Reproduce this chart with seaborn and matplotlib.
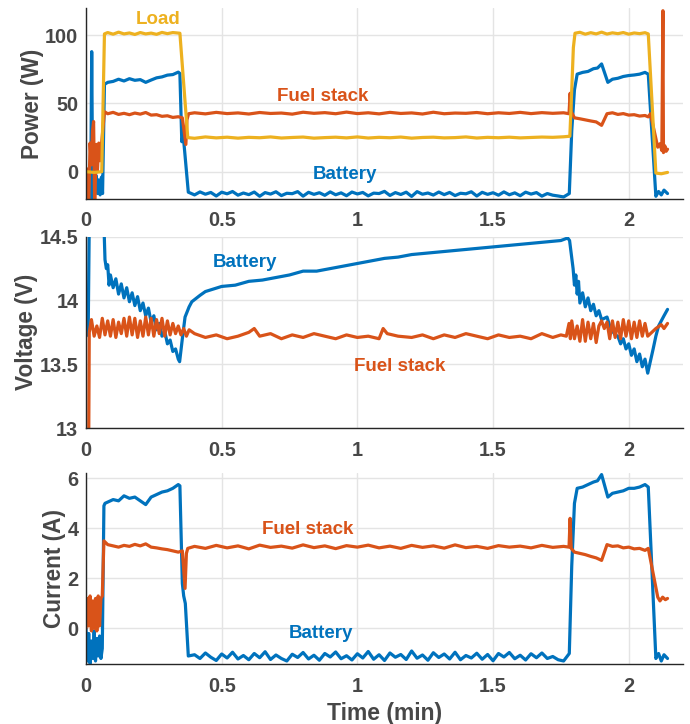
import matplotlib
matplotlib.use("Agg")
import matplotlib.pyplot as plt
import pandas as pd
import seaborn as sns
from matplotlib.ticker import FuncFormatter

# ---------------- data: (time in min, value) ----------------
POWER_LOAD = [
    (0.000, 0.0), (0.030, -0.5), (0.058, 0.0), (0.068, 101.0), (0.080, 102.0), (0.100, 100.8),
    (0.120, 102.3), (0.140, 101.0), (0.160, 101.7), (0.180, 100.6), (0.200, 102.0), (0.220, 101.0),
    (0.240, 101.6), (0.260, 100.7), (0.280, 102.1), (0.300, 101.2), (0.320, 102.0), (0.346, 101.5),
    (0.375, 25.0), (0.40, 24.5), (0.44, 25.5), (0.48, 24.8), (0.52, 25.3), (0.56, 24.6), (0.60, 25.2),
    (0.64, 24.9), (0.68, 25.5), (0.72, 24.7), (0.76, 25.1), (0.80, 25.4), (0.84, 24.6), (0.88, 25.0),
    (0.92, 25.3), (0.96, 24.8), (1.00, 25.5), (1.04, 24.7), (1.08, 25.2), (1.12, 24.9), (1.16, 25.4),
    (1.20, 24.6), (1.24, 25.1), (1.28, 25.3), (1.32, 24.8), (1.36, 25.0), (1.40, 25.5), (1.44, 24.7),
    (1.48, 25.2), (1.52, 24.9), (1.56, 25.3), (1.60, 24.8), (1.64, 25.1), (1.68, 25.4), (1.72, 25.2),
    (1.76, 25.6), (1.783, 26.0), (1.790, 60.0), (1.796, 91.0), (1.802, 101.5), (1.82, 102.2),
    (1.84, 100.8), (1.86, 101.9), (1.88, 101.0), (1.90, 102.3), (1.92, 100.9), (1.94, 101.8),
    (1.96, 101.2), (1.98, 102.0), (2.00, 100.8), (2.02, 101.7), (2.04, 101.2), (2.06, 101.9),
    (2.072, 101.0), (2.100, -1.0), (2.120, -1.5), (2.143, -0.5),
]

POWER_FUEL = [
    (0.000, 0.0), (0.005, 2.0), (0.010, -25.0), (0.015, 21.0), (0.020, 5.0), (0.024, 30.0),
    (0.028, 36.8), (0.032, -25.0), (0.038, 20.0), (0.042, 0.0), (0.047, 21.0), (0.052, 8.0),
    (0.058, 22.0), (0.068, 44.0), (0.08, 42.5), (0.10, 43.5), (0.12, 42.0), (0.14, 42.8),
    (0.16, 41.8), (0.18, 43.0), (0.20, 42.2), (0.22, 43.4), (0.24, 41.5), (0.26, 41.8),
    (0.28, 40.6), (0.30, 41.0), (0.32, 39.8), (0.34, 40.3), (0.355, 39.5), (0.368, 20.0),
    (0.372, 38.0), (0.378, 42.5), (0.40, 43.2), (0.44, 42.4), (0.48, 43.5), (0.52, 42.6),
    (0.56, 43.1), (0.60, 42.3), (0.64, 43.4), (0.68, 42.7), (0.72, 43.0), (0.76, 42.2),
    (0.80, 43.6), (0.84, 42.8), (0.88, 43.3), (0.92, 42.5), (0.96, 43.7), (1.00, 42.6),
    (1.04, 43.2), (1.08, 42.4), (1.12, 43.5), (1.16, 42.7), (1.20, 43.1), (1.24, 42.3),
    (1.28, 43.6), (1.32, 42.5), (1.36, 43.0), (1.40, 42.8), (1.44, 43.4), (1.48, 42.5),
    (1.52, 43.2), (1.56, 42.7), (1.60, 43.5), (1.64, 42.6), (1.68, 43.3), (1.72, 42.8),
    (1.76, 43.2), (1.780, 42.5), (1.784, 57.5), (1.788, 44.0), (1.800, 39.5), (1.82, 38.8),
    (1.84, 38.0), (1.86, 37.2), (1.88, 36.5), (1.900, 34.0), (1.920, 42.5), (1.94, 43.2),
    (1.96, 42.0), (1.98, 42.6), (2.00, 41.5), (2.02, 41.8), (2.04, 40.8), (2.06, 41.2),
    (2.072, 40.2), (2.080, 42.5), (2.107, 18.0), (2.115, 20.5), (2.122, 15.5), (2.126, 118.0),
    (2.128, 14.0), (2.133, 19.0), (2.138, 15.0), (2.143, 16.5),
]

POWER_BATTERY = [
    (0.000, 0.0), (0.004, -2.0), (0.008, -25.0), (0.013, -8.0), (0.017, -25.0), (0.021, 88.0),
    (0.025, -25.0), (0.030, -5.0), (0.034, -15.0), (0.038, -3.0), (0.042, -16.0), (0.047, -6.0),
    (0.052, -17.0), (0.057, -4.0), (0.061, -16.0), (0.068, 64.0), (0.08, 65.5), (0.10, 66.2),
    (0.12, 67.8), (0.14, 66.5), (0.16, 68.2), (0.18, 67.0), (0.20, 67.5), (0.22, 65.5),
    (0.24, 67.2), (0.26, 68.8), (0.28, 69.5), (0.30, 70.8), (0.32, 71.2), (0.34, 73.0),
    (0.346, 72.0), (0.353, 22.0), (0.358, 27.0), (0.364, 14.0), (0.377, -15.0),
    (0.40, -17.0), (0.42, -14.8), (0.44, -16.5), (0.46, -15.2), (0.48, -17.8), (0.50, -15.0),
    (0.52, -16.2), (0.54, -14.5), (0.56, -17.2), (0.58, -15.6), (0.60, -16.8), (0.62, -14.9),
    (0.64, -18.0), (0.66, -15.3), (0.68, -16.4), (0.70, -14.7), (0.72, -17.5), (0.74, -15.8),
    (0.76, -16.1), (0.78, -14.6), (0.80, -17.9), (0.82, -15.1), (0.84, -16.6), (0.86, -15.4),
    (0.88, -17.3), (0.90, -14.8), (0.92, -16.9), (0.94, -15.5), (0.96, -17.6), (0.98, -14.9),
    (1.00, -16.3), (1.02, -15.2), (1.04, -17.7), (1.06, -15.7), (1.08, -16.0), (1.10, -14.4),
    (1.12, -17.4), (1.14, -15.3), (1.16, -16.7), (1.18, -15.0), (1.20, -18.1), (1.22, -14.6),
    (1.24, -16.5), (1.26, -15.6), (1.28, -17.1), (1.30, -14.9), (1.32, -16.8), (1.34, -15.2),
    (1.36, -17.5), (1.38, -15.8), (1.40, -16.2), (1.42, -14.7), (1.44, -17.8), (1.46, -15.1),
    (1.48, -16.6), (1.50, -15.4), (1.52, -17.2), (1.54, -14.8), (1.56, -16.9), (1.58, -15.5),
    (1.60, -17.6), (1.62, -15.0), (1.64, -16.4), (1.66, -15.3), (1.68, -17.9), (1.70, -16.0),
    (1.72, -17.2), (1.74, -17.8), (1.76, -18.5),
    (1.781, -16.0), (1.790, 30.0), (1.800, 60.0), (1.810, 71.5), (1.83, 72.8), (1.85, 73.5),
    (1.87, 75.5), (1.885, 76.0), (1.900, 79.0), (1.923, 65.5), (1.94, 67.8), (1.96, 68.5),
    (1.98, 69.8), (2.00, 70.5), (2.02, 70.9), (2.04, 71.5), (2.06, 72.8), (2.072, 71.5),
    (2.100, -18.0), (2.11, -14.5), (2.12, -17.0), (2.13, -13.5), (2.143, -16.0),
]

VOLT_BATTERY = [
    (0.000, 13.72), (0.008, 13.74), (0.012, 14.60), (0.066, 14.60), (0.070, 14.32), (0.075, 14.25),
    (0.080, 14.28), (0.085, 14.12), (0.09, 14.20), (0.10, 14.10), (0.11, 14.17), (0.12, 14.05),
    (0.13, 14.13), (0.14, 14.02), (0.15, 14.10), (0.16, 13.99), (0.17, 14.06), (0.18, 13.96),
    (0.19, 14.03), (0.20, 13.92), (0.21, 13.98), (0.22, 13.88), (0.23, 13.94), (0.24, 13.83),
    (0.25, 13.88), (0.26, 13.77), (0.27, 13.82), (0.28, 13.72), (0.29, 13.76), (0.30, 13.66),
    (0.31, 13.69), (0.32, 13.60), (0.33, 13.62), (0.34, 13.54), (0.345, 13.52), (0.355, 13.70),
    (0.365, 13.87), (0.38, 13.95), (0.39, 13.99), (0.42, 14.04), (0.44, 14.07), (0.47, 14.09),
    (0.50, 14.11), (0.55, 14.12), (0.60, 14.15), (0.65, 14.16), (0.70, 14.18), (0.75, 14.20),
    (0.80, 14.23), (0.85, 14.23), (0.90, 14.25), (0.95, 14.27), (1.00, 14.29), (1.05, 14.31),
    (1.10, 14.33), (1.15, 14.34), (1.20, 14.36), (1.25, 14.37), (1.30, 14.38), (1.35, 14.39),
    (1.40, 14.40), (1.45, 14.41), (1.50, 14.42), (1.55, 14.43), (1.60, 14.44), (1.65, 14.45),
    (1.70, 14.46), (1.75, 14.47), (1.775, 14.49), (1.782, 14.47), (1.795, 14.25), (1.80, 14.12),
    (1.805, 14.20), (1.81, 14.05), (1.815, 14.15), (1.82, 13.98), (1.83, 14.06), (1.84, 13.95),
    (1.85, 14.02), (1.86, 13.92), (1.87, 13.97), (1.88, 13.88), (1.89, 13.92), (1.90, 13.85),
    (1.91, 13.86), (1.92, 13.87), (1.93, 13.80), (1.94, 13.76), (1.95, 13.73), (1.96, 13.72),
    (1.97, 13.66), (1.98, 13.70), (1.99, 13.62), (2.00, 13.66), (2.01, 13.57), (2.02, 13.62),
    (2.03, 13.52), (2.04, 13.58), (2.05, 13.48), (2.06, 13.54), (2.07, 13.43), (2.09, 13.62),
    (2.10, 13.72), (2.11, 13.80), (2.12, 13.84), (2.13, 13.88), (2.143, 13.93),
]

VOLT_FUEL = [
    (0.000, 12.90), (0.010, 12.90), (0.012, 13.75), (0.02, 13.85), (0.03, 13.72), (0.04, 13.80),
    (0.05, 13.71), (0.06, 13.86), (0.07, 13.73), (0.08, 13.84), (0.09, 13.72), (0.10, 13.85),
    (0.11, 13.71), (0.12, 13.83), (0.13, 13.74), (0.14, 13.86), (0.15, 13.72), (0.16, 13.87),
    (0.17, 13.73), (0.18, 13.86), (0.19, 13.71), (0.20, 13.84), (0.21, 13.72), (0.22, 13.87),
    (0.23, 13.73), (0.24, 13.86), (0.25, 13.72), (0.26, 13.85), (0.27, 13.74), (0.28, 13.86),
    (0.29, 13.72), (0.30, 13.84), (0.31, 13.73), (0.32, 13.82), (0.33, 13.74), (0.34, 13.80),
    (0.35, 13.73), (0.36, 13.78), (0.37, 13.72), (0.38, 13.77), (0.40, 13.74), (0.44, 13.71),
    (0.48, 13.73), (0.52, 13.70), (0.56, 13.72), (0.60, 13.75), (0.62, 13.78), (0.64, 13.72),
    (0.68, 13.74), (0.72, 13.70), (0.76, 13.73), (0.80, 13.71), (0.84, 13.74), (0.88, 13.72),
    (0.92, 13.70), (0.96, 13.73), (1.00, 13.71), (1.04, 13.72), (1.08, 13.70), (1.095, 13.78),
    (1.11, 13.74), (1.15, 13.72), (1.20, 13.71), (1.24, 13.73), (1.28, 13.70), (1.32, 13.73),
    (1.36, 13.71), (1.40, 13.74), (1.44, 13.72), (1.48, 13.70), (1.52, 13.73), (1.56, 13.71),
    (1.60, 13.72), (1.64, 13.70), (1.68, 13.74), (1.72, 13.71), (1.75, 13.73), (1.77, 13.72),
    (1.78, 13.82), (1.785, 13.70), (1.79, 13.84), (1.80, 13.70), (1.81, 13.80), (1.82, 13.68),
    (1.83, 13.85), (1.84, 13.68), (1.85, 13.83), (1.86, 13.70), (1.87, 13.82), (1.88, 13.67),
    (1.89, 13.80), (1.90, 13.84), (1.91, 13.78), (1.92, 13.83), (1.93, 13.70), (1.94, 13.84),
    (1.95, 13.71), (1.96, 13.83), (1.97, 13.70), (1.98, 13.85), (1.99, 13.72), (2.00, 13.84),
    (2.01, 13.70), (2.02, 13.83), (2.03, 13.71), (2.04, 13.84), (2.05, 13.72), (2.06, 13.82),
    (2.07, 13.72), (2.08, 13.74), (2.10, 13.78), (2.12, 13.81), (2.13, 13.78), (2.143, 13.82),
]

CURR_BATTERY = [
    (0.000, 0.0), (0.005, -1.3), (0.010, -0.2), (0.015, -1.4), (0.020, -0.5), (0.025, -1.2),
    (0.030, -0.1), (0.035, -1.3), (0.040, -0.4), (0.045, -1.1), (0.050, -0.3), (0.055, -1.2),
    (0.060, -0.8), (0.066, 4.9), (0.07, 5.0), (0.08, 5.05), (0.10, 5.15), (0.12, 5.1),
    (0.14, 5.3), (0.16, 5.2), (0.18, 5.25), (0.20, 5.1), (0.22, 4.95), (0.24, 5.25),
    (0.26, 5.35), (0.28, 5.45), (0.30, 5.5), (0.32, 5.6), (0.34, 5.75), (0.346, 5.7),
    (0.355, 1.8), (0.360, 1.3), (0.366, 1.0), (0.377, -1.1),
    (0.40, -1.05), (0.42, -1.20), (0.44, -0.98), (0.46, -1.15), (0.48, -1.28), (0.50, -1.02),
    (0.52, -1.18), (0.54, -0.95), (0.56, -1.22), (0.58, -1.08), (0.60, -1.25), (0.62, -1.00),
    (0.64, -1.17), (0.66, -0.93), (0.68, -1.24), (0.70, -1.06), (0.72, -1.20), (0.74, -1.30),
    (0.76, -1.03), (0.78, -1.16), (0.80, -0.96), (0.82, -1.22), (0.84, -1.07), (0.86, -1.27),
    (0.88, -1.00), (0.90, -1.14), (0.92, -0.94), (0.94, -1.21), (0.96, -1.09), (0.98, -1.26),
    (1.00, -1.01), (1.02, -1.18), (1.04, -0.92), (1.06, -1.23), (1.08, -1.05), (1.10, -1.28),
    (1.12, -0.98), (1.14, -1.15), (1.16, -1.04), (1.18, -1.24), (1.20, -0.90), (1.22, -1.19),
    (1.24, -1.06), (1.26, -1.27), (1.28, -0.97), (1.30, -1.16), (1.32, -1.02), (1.34, -1.22),
    (1.36, -0.95), (1.38, -1.25), (1.40, -1.08), (1.42, -1.18), (1.44, -0.99), (1.46, -1.23),
    (1.48, -1.04), (1.50, -1.29), (1.52, -1.00), (1.54, -1.14), (1.56, -0.96), (1.58, -1.21),
    (1.60, -1.07), (1.62, -1.26), (1.64, -1.01), (1.66, -1.17), (1.68, -0.98), (1.70, -1.20),
    (1.72, -1.12), (1.74, -1.25), (1.76, -1.30),
    (1.781, -1.0), (1.790, 2.5), (1.800, 5.0), (1.810, 5.6), (1.83, 5.65), (1.85, 5.75),
    (1.87, 5.85), (1.885, 5.9), (1.900, 6.15), (1.923, 5.25), (1.94, 5.4), (1.96, 5.45),
    (1.98, 5.5), (2.00, 5.6), (2.02, 5.6), (2.04, 5.65), (2.06, 5.75), (2.072, 5.65),
    (2.100, -1.2), (2.11, -1.0), (2.12, -1.3), (2.13, -1.05), (2.143, -1.2),
]

CURR_FUEL = [
    (0.000, 0.0), (0.005, 1.2), (0.010, 0.1), (0.015, 1.3), (0.020, -0.1), (0.025, 1.1),
    (0.030, 0.0), (0.035, 1.2), (0.040, -0.1), (0.045, 1.3), (0.050, 0.1), (0.055, 1.2),
    (0.060, 1.3), (0.066, 3.5), (0.08, 3.35), (0.10, 3.30), (0.12, 3.25), (0.14, 3.32),
    (0.16, 3.28), (0.18, 3.36), (0.20, 3.30), (0.22, 3.38), (0.24, 3.25), (0.26, 3.22),
    (0.28, 3.18), (0.30, 3.15), (0.32, 3.10), (0.34, 3.05), (0.355, 3.10), (0.365, 1.6),
    (0.370, 3.0), (0.375, 3.2), (0.40, 3.28), (0.44, 3.20), (0.48, 3.32), (0.52, 3.22),
    (0.56, 3.30), (0.60, 3.18), (0.64, 3.33), (0.68, 3.24), (0.72, 3.29), (0.76, 3.21),
    (0.80, 3.34), (0.84, 3.23), (0.88, 3.30), (0.92, 3.19), (0.96, 3.31), (1.00, 3.25),
    (1.04, 3.33), (1.08, 3.22), (1.12, 3.29), (1.16, 3.20), (1.20, 3.32), (1.24, 3.24),
    (1.28, 3.30), (1.32, 3.21), (1.36, 3.34), (1.40, 3.23), (1.44, 3.28), (1.48, 3.20),
    (1.52, 3.31), (1.56, 3.25), (1.60, 3.29), (1.64, 3.22), (1.68, 3.32), (1.72, 3.24),
    (1.76, 3.28), (1.780, 3.25), (1.784, 4.4), (1.788, 3.2), (1.800, 3.05), (1.82, 3.0),
    (1.84, 2.95), (1.86, 2.88), (1.88, 2.82), (1.900, 2.72), (1.920, 3.35), (1.94, 3.28),
    (1.96, 3.30), (1.98, 3.22), (2.00, 3.25), (2.02, 3.18), (2.04, 3.20), (2.06, 3.12),
    (2.072, 3.20), (2.107, 1.25), (2.115, 1.10), (2.125, 1.25), (2.135, 1.15), (2.143, 1.2),
]

X_TICKS = [0, 0.5, 1, 1.5, 2]
Y_LABELS = ["Power (W)", "Voltage (V)", "Current (A)"]
X_LABEL = "Time (min)"

# ---------------- style ----------------
sns.set_theme(style="whitegrid")
plt.rcParams["font.family"] = ["Liberation Sans", "DejaVu Sans"]
plt.rcParams["font.weight"] = "bold"
plt.rcParams["axes.labelweight"] = "bold"

BLUE, ORANGE, YELLOW = "#0072BD", "#D95319", "#EDB120"
PAL = {"Battery": BLUE, "Fuel stack": ORANGE, "Load": YELLOW}
TXT = "#474747"
AXC = "#262626"


def frame(series):
    rows = []
    for name, pts in series.items():
        for t, v in pts:
            rows.append((name, t, v))
    return pd.DataFrame(rows, columns=["series", "time", "value"])


W, H = 690, 724
fig = plt.figure(figsize=(W / 100, H / 100), dpi=100)


def rect(l, t, r, b):
    return [l / W, 1 - b / H, (r - l) / W, (b - t) / H]


ax1 = fig.add_axes(rect(86, 8, 683, 199))
ax2 = fig.add_axes(rect(86, 236.7, 683, 428))
ax3 = fig.add_axes(rect(86, 473.3, 683, 664))

panels = [
    (ax1, {"Battery": POWER_BATTERY, "Fuel stack": POWER_FUEL, "Load": POWER_LOAD},
     (-20, 120), [0, 50, 100], Y_LABELS[0],
     [("Load", 0.265, 111.5), ("Fuel stack", 0.871, 55), ("Battery", 0.954, -2.4)]),
    (ax2, {"Battery": VOLT_BATTERY, "Fuel stack": VOLT_FUEL},
     (13, 14.5), [13, 13.5, 14, 14.5], Y_LABELS[1],
     [("Battery", 0.586, 14.30), ("Fuel stack", 1.157, 13.48)]),
    (ax3, {"Battery": CURR_BATTERY, "Fuel stack": CURR_FUEL},
     (-1.42, 6.2), [0, 2, 4, 6], Y_LABELS[2],
     [("Fuel stack", 0.818, 3.97), ("Battery", 0.867, -0.2)]),
]

fmt = FuncFormatter(lambda v, p: f"{v:g}")
for ax, series, ylim, yticks, ylabel, labels in panels:
    df = frame(series)
    sns.lineplot(data=df, x="time", y="value", hue="series", hue_order=list(series),
                 palette=PAL, sort=False, estimator=None, legend=False, ax=ax,
                 linewidth=2.3)
    ax.set_xlim(0, 2.2)
    ax.set_ylim(*ylim)
    ax.set_xticks(X_TICKS)
    ax.set_yticks(yticks)
    ax.xaxis.set_major_formatter(fmt)
    ax.yaxis.set_major_formatter(fmt)
    ax.set_facecolor("white")
    ax.grid(True, color="#e4e4e4", linewidth=1.0)
    ax.set_axisbelow(True)
    for s in ["top", "right"]:
        ax.spines[s].set_visible(False)
    for s in ["left", "bottom"]:
        ax.spines[s].set_visible(True)
        ax.spines[s].set_color(AXC)
        ax.spines[s].set_linewidth(1.0)
    ax.tick_params(axis="both", direction="in", length=4, width=1, color=AXC,
                   labelcolor=TXT, labelsize=14.3)
    ax.tick_params(axis="x", pad=9)
    ax.tick_params(axis="y", pad=5.5)
    ax.set_ylabel(ylabel, fontsize=16.3, fontweight="bold", color=TXT, labelpad=1)
    ax.set_xlabel("")
    for text, tx, ty in labels:
        ax.text(tx, ty, text, color=PAL[text], fontsize=13.5, fontweight="bold",
                ha="center", va="center")

ax3.set_xlabel(X_LABEL, fontsize=16.5, fontweight="bold", color=TXT, labelpad=5)

fig.savefig("out.png", dpi=100)
